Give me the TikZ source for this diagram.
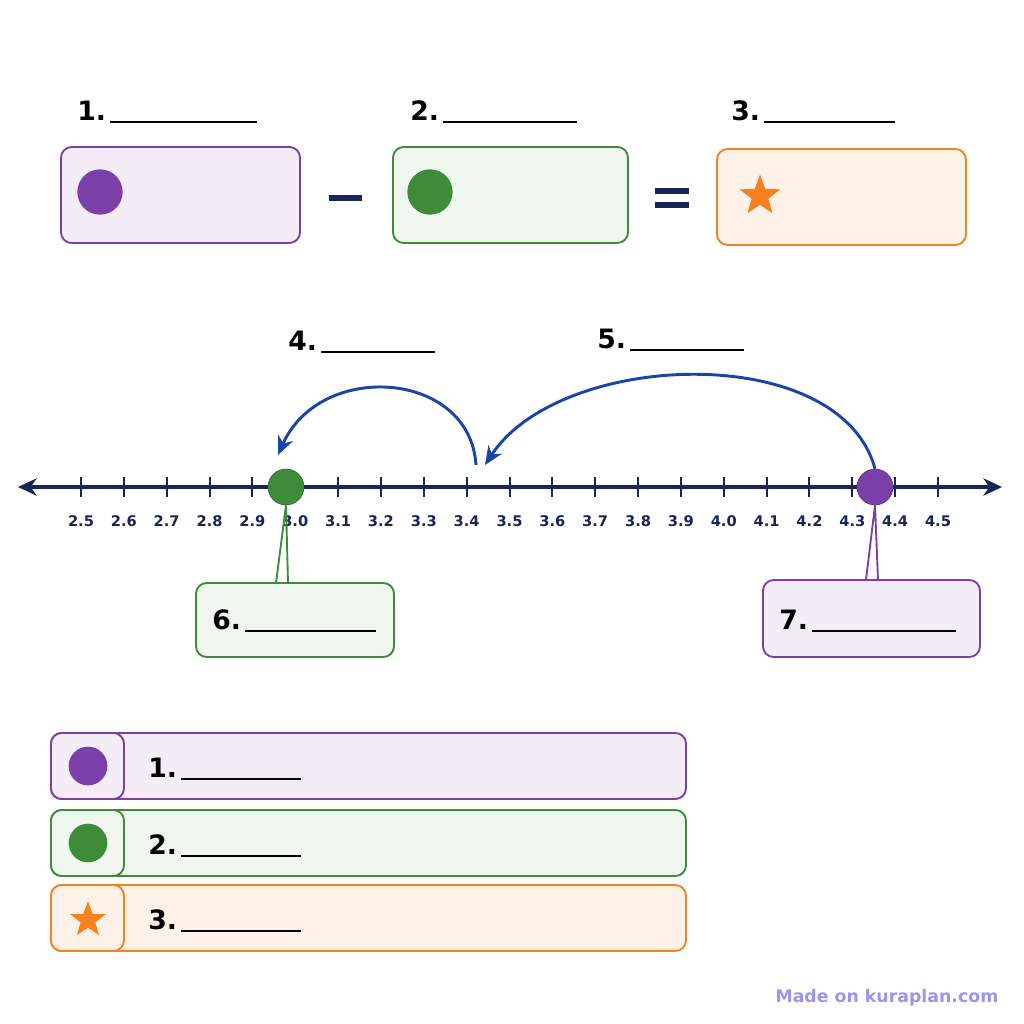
\documentclass[tikz,border=0pt]{standalone}
\usepackage{fontspec}
\setmainfont{DejaVu Sans}
\usepackage{tikz}
\usetikzlibrary{shapes.geometric,arrows.meta}
\definecolor{pur}{HTML}{7B3FA8}
\definecolor{purf}{HTML}{F4EDF8}
\definecolor{grn}{HTML}{3E8B3A}
\definecolor{grnf}{HTML}{EFF6EE}
\definecolor{org}{HTML}{F5821F}
\definecolor{orgf}{HTML}{FEF2E8}
\definecolor{navy}{HTML}{1A2456}
\definecolor{arc}{HTML}{1A44A8}
\definecolor{wmc}{HTML}{9C95F0}
\tikzset{
  box/.style={rounded corners=8pt,line width=1.4pt},
  dot/.style={circle,minimum size=#1,inner sep=0pt},
  star5/.style={star,star points=5,star point ratio=2.4,fill=org,inner sep=0pt,minimum size=#1},
  lbl/.style={font=\bfseries\fontsize{20}{24}\selectfont,anchor=west,inner sep=0pt},
  tck/.style={font=\bfseries\fontsize{11}{13}\selectfont,text=navy,inner sep=0pt}
}
\newcommand{\blank}[1]{\,\rule[-2pt]{#1pt}{1.5pt}}
\begin{document}
\begin{tikzpicture}[x=0.75pt,y=0.75pt,yscale=-1,xscale=1]
\useasboundingbox (0,0) rectangle (1024,1024);
\fill[white] (0,0) rectangle (1024,1024);

% top equation
\draw[box,draw=pur,fill=purf] (61,147) rectangle (300,243);
\draw[box,draw=grn,fill=grnf] (393,147) rectangle (628,243);
\draw[box,draw=org,fill=orgf] (717,149) rectangle (966,245);
\node[dot=34pt,fill=pur] (p1) at (100,192) {};
\node[dot=34pt,fill=grn] (g1) at (430,192) {};
\node[star5=32pt] (s1) at (760,196) {};
\node[lbl] (t1) at (77,112) {1.\blank{110}};
\node[lbl] (t2) at (410,112) {2.\blank{100}};
\node[lbl] (t3) at (731,112) {3.\blank{98}};
\draw[navy,line width=4pt] (329,198) -- (362,198);
\draw[navy,line width=4pt] (655,191) -- (689,191) (655,205) -- (689,205);

% number line
\coordinate (L) at (18,487);
\coordinate (R) at (1002,487);
\draw[navy,line width=2.4pt,{Stealth[length=14pt,width=13pt]}-{Stealth[length=14pt,width=13pt]}] (L) -- (R);
\foreach \t [count=\i from 0] in {2.5,2.6,2.7,2.8,2.9,3.0,3.1,3.2,3.3,3.4,3.5,3.6,3.7,3.8,3.9,4.0,4.1,4.2,4.3,4.4,4.5}{
  \draw[navy,line width=1.5pt] (81+42.85*\i,477) -- (81+42.85*\i,497);
  \node[tck] at (81+42.85*\i,521) {\t};
}
\node[dot=27pt,fill=grn,draw=grn!70!black] (gd) at (286,487) {};
\node[dot=27pt,fill=pur,draw=pur!70!black] (pd) at (875,487) {};

% jumps
\draw[arc,line width=2.2pt,-{Stealth[length=14pt,width=12pt]}] (476,465) .. controls (470,370) and (320,360) .. (278,455);
\draw[arc,line width=2.2pt,-{Stealth[length=14pt,width=12pt]}] (pd.north) .. controls (840,340) and (560,350) .. (485,465);
\node[lbl] (t4) at (288,342) {4.\blank{85}};
\node[lbl] (t5) at (597,340) {5.\blank{85}};

% callouts
\draw[box,draw=grn,fill=grnf] (196,583) rectangle (394,657);
\draw[grn,line width=1.4pt] (gd.south) -- (276,583) (gd.south) -- (288,583);
\node[lbl] (t6) at (212,621) {6.\blank{98}};
\draw[box,draw=pur,fill=purf] (763,580) rectangle (980,657);
\draw[pur,line width=1.4pt] (pd.south) -- (866,580) (pd.south) -- (878,580);
\node[lbl] (t7) at (779,621) {7.\blank{108}};

% legend
\foreach \y/\c/\f/\n in {733/pur/purf/1,810/grn/grnf/2,885/org/orgf/3}{
  \draw[box,draw=\c,fill=\f] (51,\y) rectangle (686,\y+66);
  \draw[box,draw=\c,fill=\f] (51,\y) rectangle (124,\y+66);
  \node[lbl] at (148,\y+36) {\n.\blank{90}};
}
\node[dot=29pt,fill=pur] (p2) at (88,766) {};
\node[dot=29pt,fill=grn] (g2) at (88,843) {};
\node[star5=28pt] (s2) at (88,920) {};

\node[font=\bfseries\fontsize{13}{15}\selectfont,text=wmc,anchor=east] (wm) at (1003,998) {Made on kuraplan.com};
\end{tikzpicture}
\end{document}
